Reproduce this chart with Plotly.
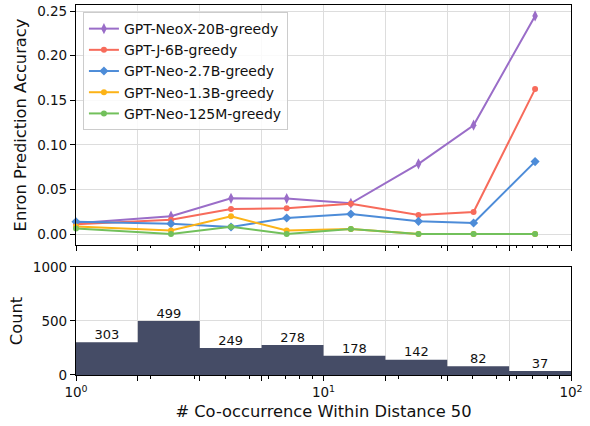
import plotly.graph_objects as go

# ---- data ----
x_points = [1.0, 2.42, 4.23, 7.1, 12.9, 24.2, 40.4, 71.6]
neox20b = [0.012, 0.020, 0.040, 0.0397, 0.0345, 0.0787, 0.122, 0.2445]
gptj6b = [0.011, 0.016, 0.028, 0.0288, 0.034, 0.0213, 0.0247, 0.1625]
neo27b = [0.0138, 0.0116, 0.0079, 0.018, 0.0225, 0.0142, 0.0124, 0.0812]
neo13b = [0.0085, 0.004, 0.0198, 0.004, 0.0055, 0.0, 0.0, 0.0]
neo125m = [0.0063, 0.0, 0.0082, 0.0, 0.0056, 0.0, 0.0, 0.0]

bin_edges = [1.0, 1.778, 3.162, 5.623, 10.0, 17.78, 31.62, 56.23, 100.0]
counts = [303, 499, 249, 278, 178, 142, 82, 37]

major_vals = [1, 10, 100]
major_text = ["10<sup>0</sup>", "10<sup>1</sup>", "10<sup>2</sup>"]
edge_vals = [1.778, 3.162, 5.623, 17.78, 31.62, 56.23]
small_vals = [2, 3, 4, 5, 6, 7, 8, 9, 20, 30, 40, 50, 60, 70, 80, 90]

series = [
    ("GPT-NeoX-20B-greedy", neox20b, "#9a6dc8", "diamond-tall", 8),
    ("GPT-J-6B-greedy", gptj6b, "#f76b5b", "circle", 6),
    ("GPT-Neo-2.7B-greedy", neo27b, "#4d8cd8", "diamond", 7),
    ("GPT-Neo-1.3B-greedy", neo13b, "#fcb317", "circle", 6),
    ("GPT-Neo-125M-greedy", neo125m, "#72c05b", "circle", 6),
]

FONT = "DejaVu Sans"
TXT = "#111111"

fig = go.Figure()

for name, vals, col, sym, sz in series:
    fig.add_trace(go.Scatter(
        x=x_points, y=vals, name=name, mode="lines+markers",
        line=dict(color=col, width=2),
        marker=dict(color=col, symbol=sym, size=sz),
        cliponaxis=False, xaxis="x", yaxis="y",
    ))

# histogram as step area
step_y = counts + [counts[-1]]
fig.add_trace(go.Scatter(
    x=bin_edges, y=step_y, mode="lines", line=dict(shape="hv", width=0, color="#454c66"),
    fill="tozeroy", fillcolor="#454c66", showlegend=False, hoverinfo="skip",
    xaxis="x2", yaxis="y2",
))

centers = [(bin_edges[i] * bin_edges[i + 1]) ** 0.5 for i in range(len(counts))]
fig.add_trace(go.Scatter(
    x=centers, y=counts, mode="text", text=[str(c) for c in counts],
    textposition="top center", textfont=dict(family=FONT, size=13, color=TXT),
    showlegend=False, hoverinfo="skip", cliponaxis=False, xaxis="x2", yaxis="y2",
))

# invisible traces to carry the small log tick axes
for xa, ya in (("x3", "y"), ("x4", "y2")):
    fig.add_trace(go.Scatter(x=[1, 100], y=[None, None], mode="markers", showlegend=False,
                             hoverinfo="skip", xaxis=xa, yaxis=ya))

xcommon = dict(
    type="log", range=[0, 2], showline=True, linecolor="black", linewidth=1.2, mirror=True,
    showgrid=True, gridcolor="#dddddd", gridwidth=1, automargin=False,
    tickmode="array", tickvals=major_vals, ticktext=major_text,
    ticks="outside", ticklen=5, tickcolor="black",
    minor=dict(tickmode="array", tickvals=edge_vals, ticks="outside", ticklen=5,
               tickcolor="black", showgrid=True, gridcolor="#dddddd", gridwidth=1),
    zeroline=False, domain=[0, 1],
)
smallaxis = dict(type="log", range=[0, 2], showline=False, showgrid=False, zeroline=False,
                 tickmode="array", tickvals=small_vals, ticks="outside", ticklen=2.5,
                 tickcolor="black", showticklabels=False, automargin=False, domain=[0, 1])

ycommon = dict(showline=True, linecolor="black", linewidth=1.2, mirror=True,
               showgrid=True, gridcolor="#dddddd", gridwidth=1, zeroline=False,
               ticks="outside", ticklen=5, tickcolor="black", automargin=False,
               tickfont=dict(family=FONT, size=13.5, color=TXT))

fig.update_layout(
    xaxis=dict(**xcommon, anchor="y", showticklabels=False, matches="x2"),
    xaxis2=dict(**xcommon, anchor="y2", showticklabels=True,
                tickfont=dict(family=FONT, size=13.5, color=TXT),
                title=dict(text="# Co-occurrence Within Distance 50",
                           font=dict(family=FONT, size=16.3, color=TXT), standoff=6)),
    xaxis3=dict(**smallaxis, overlaying="x", anchor="y"),
    xaxis4=dict(**smallaxis, overlaying="x2", anchor="y2"),
    yaxis=dict(**ycommon, range=[-0.0123, 0.2568], tickvals=[0, 0.05, 0.10, 0.15, 0.20, 0.25],
               tickformat=".2f", domain=[0.3514, 1.0], anchor="x",
               title=dict(text="Enron Prediction Accuracy",
                          font=dict(family=FONT, size=16.3, color=TXT), standoff=6)),
    yaxis2=dict(**ycommon, range=[0, 1000], tickvals=[0, 500, 1000], domain=[0, 0.2919], anchor="x2",
                title=dict(text="Count", font=dict(family=FONT, size=16.3, color=TXT), standoff=6)),
    width=590, height=426,
    margin=dict(l=76, r=19, t=5, b=51),
    paper_bgcolor="white", plot_bgcolor="white",
    font=dict(family=FONT, size=13.5, color=TXT),
    legend=dict(x=0.014, y=0.981, xanchor="left", yanchor="top",
                bgcolor="rgba(255,255,255,0.85)", bordercolor="#cccccc", borderwidth=1,
                font=dict(family=FONT, size=14, color=TXT), tracegroupgap=0),
    showlegend=True,
)

fig.write_html("out.html", config={"displayModeBar": False},
               post_script="document.body.style.margin='0';document.body.style.padding='0';"
                           "document.documentElement.style.overflow='hidden';")
